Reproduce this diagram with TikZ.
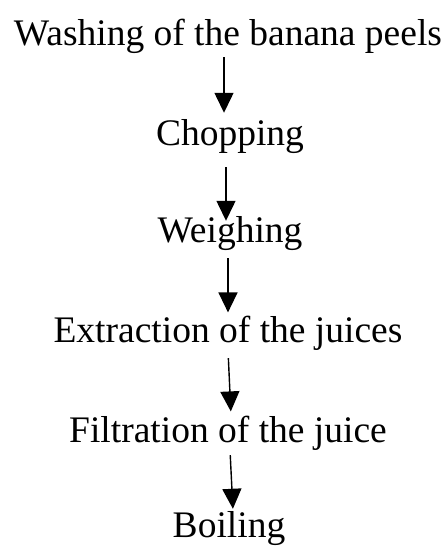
\documentclass[tikz,border=0pt]{standalone}
\usepackage{fontspec}
\setmainfont{Liberation Serif}
\usetikzlibrary{arrows.meta}

\begin{document}
\begin{tikzpicture}[x=1pt,y=-1pt,
	step node/.style={anchor=base,inner sep=0pt,font=\fontsize{37.5}{45}\selectfont},
	flow/.style={-{Triangle[width=19pt,length=20pt]},line width=1.4pt}]
	\useasboundingbox (0,0) rectangle (446,546);

	\node[step node] (wash) at (228,45) {Washing of the banana peels};
	\node[step node] (chop) at (230,145) {Chopping};
	\node[step node] (weigh) at (230,242) {Weighing};
	\node[step node] (extr) at (228,342) {Extraction of the juices};
	\node[step node] (filt) at (228,442) {Filtration of the juice};
	\node[step node] (boil) at (229,537) {Boiling};

	\draw[flow, shorten <=4pt, shorten >=6pt] ([xshift=-4pt]wash.south) -- ([xshift=-6pt]chop.north);
	\draw[flow, shorten <=14pt, shorten >=-5pt] ([xshift=-4pt]chop.south) -- ([xshift=-4pt]weigh.north);
	\draw[flow, shorten <=8pt, shorten >=3pt] ([xshift=-2pt]weigh.south) -- (extr.north);
	\draw[flow, shorten <=8pt, shorten >=4pt] (extr.south) -- ([xshift=3pt]filt.north);
	\draw[flow, shorten <=5pt, shorten >=2pt] ([xshift=2pt]filt.south) -- ([xshift=4pt]boil.north);
\end{tikzpicture}
\end{document}
